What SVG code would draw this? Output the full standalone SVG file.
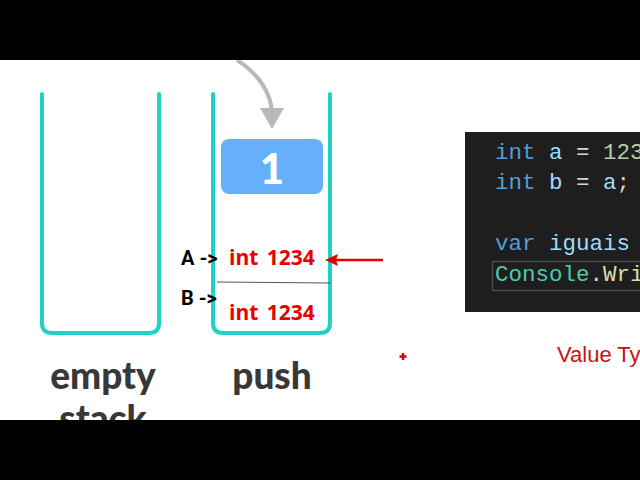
<svg xmlns="http://www.w3.org/2000/svg" width="640" height="480" viewBox="0 0 640 480">
<defs>
<style>
.stack{fill:none;stroke:#1fd3c4;stroke-width:4;stroke-linecap:round;stroke-linejoin:round}
.lbl{font-family:Lato,"Open Sans",sans-serif;font-weight:900;font-size:37px;fill:#383838;text-anchor:middle}
.ptr{font-family:Roboto,"Liberation Sans",sans-serif;font-weight:bold;font-size:20px;fill:#000}
.val{font-family:"Open Sans","Liberation Sans",sans-serif;font-weight:bold;font-size:21px;fill:#e60000;word-spacing:3px}
.code{font-family:"Liberation Mono","DejaVu Sans Mono",monospace;font-size:22.5px}
.kw{fill:#569cd6}.id{fill:#9cdcfe}.op{fill:#d4d4d4}.num{fill:#b5cea8}.ty{fill:#4ec9b0}.fn{fill:#dcdcaa}
</style>
</defs>
<rect x="0" y="0" width="640" height="480" fill="#ffffff"/>
<g id="empty-stack">
<path class="stack" d="M42,94 V323 Q42,333 52,333 H149 Q159,333 159,323 V94"/>
<text class="lbl" x="103" y="389">empty</text>
<text class="lbl" x="103" y="432">stack</text>
</g>
<g id="push-stack">
<path class="stack" d="M213,94 V323 Q213,333 223,333 H320 Q330,333 330,323 V94"/>
<text class="lbl" x="272" y="389">push</text>
</g>
<g id="block-1">
<rect x="221" y="139" width="102" height="55" rx="8" fill="#66b0fb"/>
<text x="272" y="184" font-family="Lato,'Open Sans',sans-serif" font-weight="900" font-size="42" fill="#ffffff" text-anchor="middle">1</text>
</g>
<g id="slot-a">
<text class="ptr" x="181" y="265">A -&gt;</text>
<text class="val" x="229" y="265">int 1234</text>
</g>
<line x1="217" y1="282" x2="331" y2="283" stroke="#555" stroke-width="1"/>
<g id="slot-b">
<text class="ptr" x="181" y="305">B -&gt;</text>
<text class="val" x="229" y="320">int 1234</text>
</g>
<g id="connectors">
<path d="M237,60 Q268,80 272,110" fill="none" stroke="#b8b8b8" stroke-width="4"/>
<path d="M260,108 L284,108 L272,129 Z" fill="#b8b8b8"/>
<line x1="383" y1="260" x2="335" y2="260" stroke="#e60000" stroke-width="2.5"/>
<path d="M325,260 L338,254 L336,260 L338,266 Z" fill="#e60000"/>
</g>
<g id="code-panel">
<rect x="465" y="132" width="180" height="180" fill="#1e1e1e"/>
<rect x="492.5" y="261.5" width="150" height="29" fill="none" stroke="#4a4a4a" stroke-width="1.5"/>
<text class="code" x="495" y="159"><tspan class="kw">int</tspan><tspan class="id"> a</tspan><tspan class="op"> = </tspan><tspan class="num">123</tspan></text>
<text class="code" x="495" y="189"><tspan class="kw">int</tspan><tspan class="id"> b</tspan><tspan class="op"> = </tspan><tspan class="id">a</tspan><tspan class="op">;</tspan></text>
<text class="code" x="495" y="250"><tspan class="kw">var</tspan><tspan class="id"> iguais</tspan></text>
<text class="code" x="495" y="281"><tspan class="ty">Console</tspan><tspan class="op">.</tspan><tspan class="fn">Wri</tspan></text>
</g>
<path d="M403,353 V360 M399.5,356.5 H406.5" stroke="#e60000" stroke-width="2.5"/>
<text x="557" y="362" font-family="'Liberation Sans',sans-serif" font-size="22" fill="#cc1111">Value Ty</text>
<rect x="0" y="0" width="640" height="60" fill="#000"/>
<rect x="0" y="420" width="640" height="60" fill="#000"/>
</svg>
